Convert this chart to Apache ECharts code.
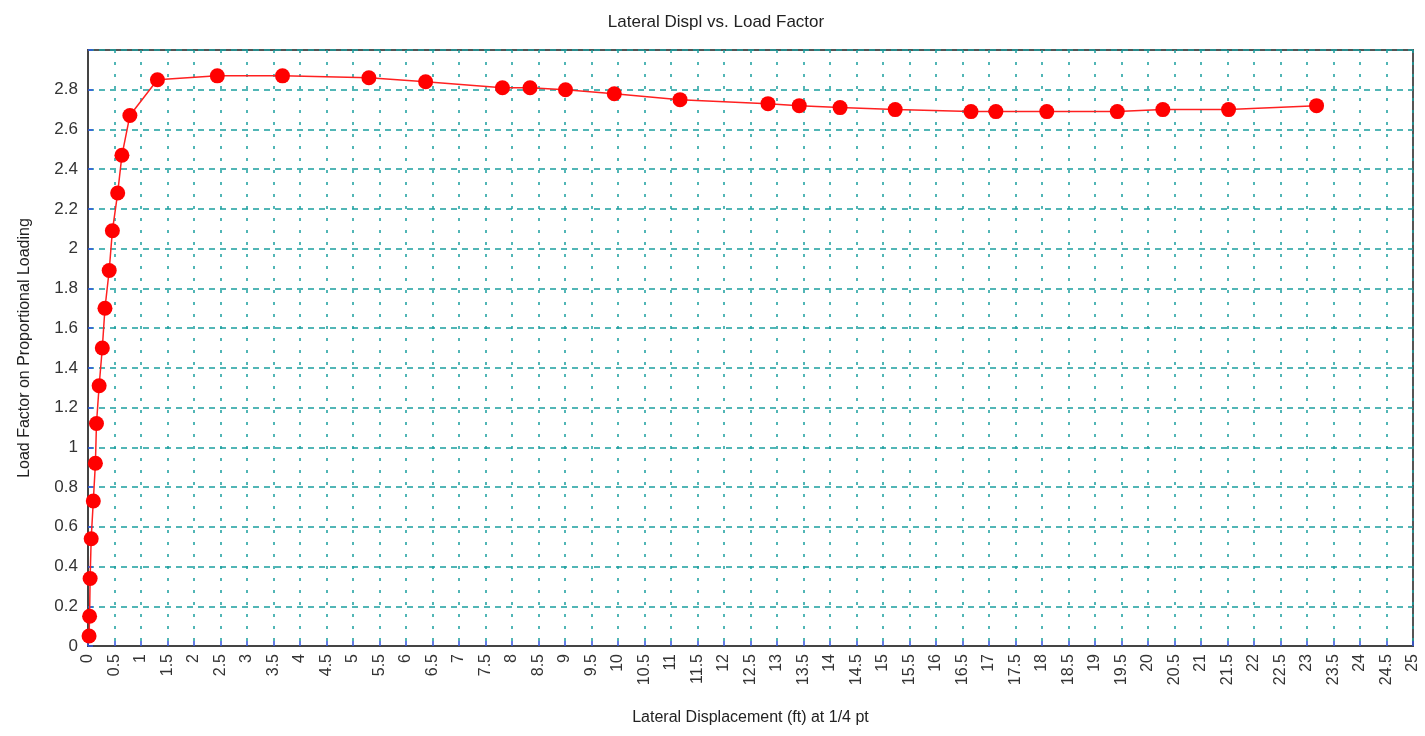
<!DOCTYPE html>
<html>
<head>
<meta charset="utf-8">
<script src="https://cdn.jsdelivr.net/npm/echarts@6/dist/echarts.min.js"></script>
<style>
  html, body { margin: 0; padding: 0; background: #fff; }
  #main { width: 1425px; height: 736px; }
</style>
</head>
<body>
<div id="main"></div>
<script>
// lateral displacement (ft) at 1/4 pt
var displ = [0.02, 0.03, 0.04, 0.06, 0.10, 0.14, 0.16, 0.21, 0.27, 0.32, 0.40, 0.46,
  0.56, 0.64, 0.79, 1.31, 2.44, 3.67, 5.30, 6.37, 7.82, 8.34, 9.01, 9.93, 11.17,
  12.83, 13.42, 14.19, 15.23, 16.66, 17.13, 18.09, 19.42, 20.28, 21.52, 23.18];
// load factor on proportional loading
var loadFactor = [0.05, 0.15, 0.34, 0.54, 0.73, 0.92, 1.12, 1.31, 1.50, 1.70, 1.89, 2.09,
  2.28, 2.47, 2.67, 2.85, 2.87, 2.87, 2.86, 2.84, 2.81, 2.81, 2.80, 2.78, 2.75,
  2.73, 2.72, 2.71, 2.70, 2.69, 2.69, 2.69, 2.69, 2.70, 2.70, 2.72];

var xRange = [0, 25, 0.5];
var yRange = [0, 3, 0.2];

var chart = echarts.init(document.getElementById('main'));

var points = displ.map(function (x, i) { return [x, loadFactor[i]]; });
var font = 'Arial, "Liberation Sans", sans-serif';

var option = {
  backgroundColor: '#fff',
  animation: false,
  title: {
    text: 'Lateral Displ vs. Load Factor',
    left: 711,
    textAlign: 'center',
    top: 9,
    textStyle: { fontFamily: font, fontSize: 17, fontWeight: 'normal', color: '#222' }
  },
  grid: {
    left: 88, right: 12, top: 50, bottom: 90,
    show: true,
    borderColor: '#555',
    borderWidth: 2,
    backgroundColor: '#fff'
  },
  xAxis: {
    type: 'value',
    min: xRange[0], max: xRange[1], interval: xRange[2],
    name: 'Lateral Displacement (ft) at 1/4 pt',
    nameLocation: 'middle',
    nameGap: 64,
    nameTextStyle: { fontFamily: font, fontSize: 16, color: '#222' },
    axisLine: { show: true, lineStyle: { color: '#444', width: 2 } },
    axisTick: { show: true, inside: true, length: 5, lineStyle: { color: '#3355dd', width: 1.5 } },
    axisLabel: {
      rotate: 90, fontFamily: font, fontSize: 16, color: '#333', margin: 8,
      showMaxLabel: true, showMinLabel: true
    },
    splitLine: { show: true, lineStyle: { color: '#1a9e9e', width: 1.5, type: [3, 9] } }
  },
  yAxis: {
    type: 'value',
    min: yRange[0], max: yRange[1], interval: yRange[2],
    name: 'Load Factor on Proportional Loading',
    nameLocation: 'middle',
    nameGap: 55,
    nameTextStyle: { fontFamily: font, fontSize: 16, color: '#222' },
    axisLine: { show: true, lineStyle: { color: '#444', width: 2 } },
    axisTick: { show: true, inside: true, length: 5, lineStyle: { color: '#3355dd', width: 1.5 } },
    axisLabel: {
      fontFamily: font, fontSize: 17, color: '#333', margin: 10,
      formatter: function (v) { return v >= 3 ? '' : String(+v.toFixed(1)); }
    },
    splitLine: { show: true, lineStyle: { color: '#1a9e9e', width: 1.5, type: [6, 5] } }
  },
  series: [{
    type: 'line',
    data: points,
    symbol: 'circle',
    symbolSize: 15,
    clip: true,
    itemStyle: { color: '#ff0000' },
    lineStyle: { color: '#ff2020', width: 1.5 }
  }]
};

chart.setOption(option);
</script>
</body>
</html>
